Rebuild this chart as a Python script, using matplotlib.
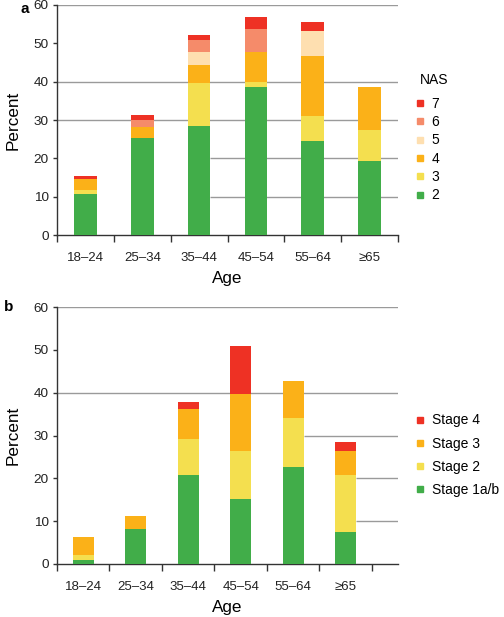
import numpy as np
import matplotlib
matplotlib.use('Agg')
import matplotlib.pyplot as plt
from matplotlib.lines import Line2D

plt.rcParams['font.family'] = ['Liberation Sans', 'DejaVu Sans']

ages = ['18\u201324', '25\u201334', '35\u201344', '45\u201354', '55\u201364', '\u226565']

# panel a: NAS score, stacked from 2 (bottom) to 7 (top)
nas_labels = ['2', '3', '4', '5', '6', '7']
nas2 = [10.7, 25.3, 28.5, 38.5, 24.4, 19.3]
nas3 = [1.0, 0.0, 11.2, 1.5, 6.7, 8.2]
nas4 = [2.9, 2.9, 4.6, 7.7, 15.5, 11.1]
nas5 = [0.0, 0.0, 3.4, 0.0, 6.7, 0.0]
nas6 = [0.0, 1.7, 3.1, 6.0, 0.0, 0.0]
nas7 = [0.9, 1.4, 1.5, 3.1, 2.2, 0.0]
nas_colors = ['#41ad49', '#f4df4f', '#fbb118', '#fedfb0', '#f58b6a', '#ee3124']

# panel b: fibrosis stage
stage_labels = ['Stage 1a/b', 'Stage 2', 'Stage 3', 'Stage 4']
st1 = [1.0, 8.2, 20.8, 15.2, 22.7, 7.5]
st2 = [1.1, 0.0, 8.5, 11.2, 11.5, 13.2]
st3 = [4.2, 3.0, 7.0, 13.2, 8.6, 5.6]
st4 = [0.0, 0.0, 1.6, 11.2, 0.0, 2.1]
stage_colors = ['#41ad49', '#f4df4f', '#fbb118', '#ee3124']

grid_c = '#9a9a9a'
spine_c = '#333333'

fig = plt.figure(figsize=(5.04, 6.17), dpi=100)
ax1 = fig.add_axes([0.113, 0.6191, 0.677, 0.3728])
ax2 = fig.add_axes([0.113, 0.0859, 0.677, 0.4165])


def stacked(ax, series, colors, xmax, grids):
    x = np.arange(len(ages)) + 0.5
    bottom = np.zeros(len(ages))
    for vals, c in zip(series, colors):
        vals = np.array(vals)
        ax.bar(x, vals, width=0.4, bottom=bottom, color=c, zorder=3, linewidth=0)
        bottom += vals
    # partial horizontal grid lines (as in the original)
    for y, x0 in grids:
        ax.hlines(y, x0, xmax, color=grid_c, lw=1, zorder=1)
    ax.set_xlim(0, xmax)
    ax.set_ylim(0, 60)
    ax.set_yticks(range(0, 61, 10))
    ax.set_xticks(range(0, int(xmax) + 1))
    ax.set_xticklabels([])
    ax.set_xticks(x, minor=True)
    ax.set_xticklabels(ages, minor=True)
    ax.tick_params(axis='x', which='major', direction='out', length=5, width=1, color=spine_c)
    ax.tick_params(axis='x', which='minor', length=0, pad=12.5, labelsize=9.5, labelcolor='#222222')
    ax.tick_params(axis='y', direction='out', length=3, width=1, color=spine_c, labelsize=9.7,
                   labelcolor='#222222', pad=3)
    for s in ['top', 'right']:
        ax.spines[s].set_visible(False)
    for s in ['left', 'bottom']:
        ax.spines[s].set_color(spine_c)
        ax.spines[s].set_linewidth(1)
    ax.set_ylabel('Percent', fontsize=12.3, labelpad=9)
    ax.set_xlabel('Age', fontsize=12.3, labelpad=5)


stacked(ax1, [nas2, nas3, nas4, nas5, nas6, nas7], nas_colors, 6,
        [(60, 0), (40, 0), (30, 0), (20, 2.7), (10, 2.7)])
stacked(ax2, [st1, st2, st3, st4], stage_colors, 6.5,
        [(60, 0), (40, 0), (30, 4.7), (20, 5.7), (10, 5.7)])

# legends
h1 = [Line2D([], [], marker='s', ls='', markersize=5, color=c) for c in nas_colors[::-1]]
leg1 = fig.legend(h1, nas_labels[::-1], loc='upper left',
                  bbox_to_anchor=(0.815, 0.852), frameon=False, fontsize=10,
                  handlelength=0.6, handletextpad=0.5,
                  labelspacing=0.31, borderaxespad=0)
fig.text(0.833, 1 - 80 / 617, 'NAS', fontsize=10, ha='left', va='center')

h2 = [Line2D([], [], marker='s', ls='', markersize=5, color=c) for c in stage_colors[::-1]]
leg2 = fig.legend(h2, stage_labels[::-1], loc='upper left',
                  bbox_to_anchor=(0.815, 0.339), frameon=False, fontsize=10,
                  handlelength=0.6, handletextpad=0.5, labelspacing=0.66, borderaxespad=0)

fig.text(0.040, 0.985, 'a', fontsize=11, fontweight='bold', ha='left', va='center')
fig.text(0.008, 0.503, 'b', fontsize=11, fontweight='bold', ha='left', va='center')

fig.savefig('out.png', dpi=100)
